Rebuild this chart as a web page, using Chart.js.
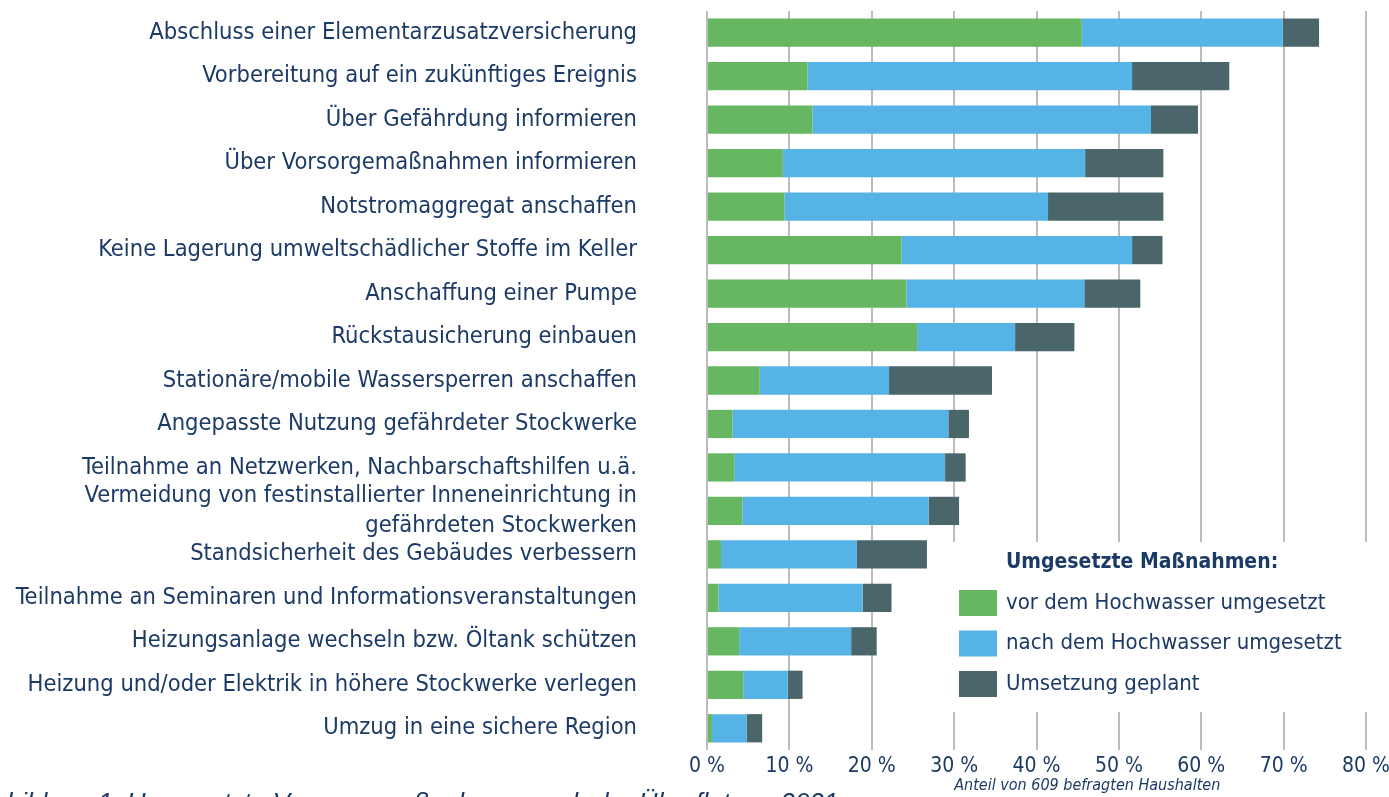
<!DOCTYPE html>
<html>
<head>
<meta charset="utf-8">
<script src="https://cdn.jsdelivr.net/npm/chart.js@4.4.1/dist/chart.umd.min.js"></script>
<style>
  html, body { margin: 0; padding: 0; background: #fff; overflow: hidden; }
  canvas { display: block; }
</style>
</head>
<body>
<canvas id="massnahmen" width="1389" height="797"></canvas>
<script>
// Werte in Prozent
const categories = [
  'Abschluss einer Elementarzusatzversicherung',
  'Vorbereitung auf ein zukünftiges Ereignis',
  'Über Gefährdung informieren',
  'Über Vorsorgemaßnahmen informieren',
  'Notstromaggregat anschaffen',
  'Keine Lagerung umweltschädlicher Stoffe im Keller',
  'Anschaffung einer Pumpe',
  'Rückstausicherung einbauen',
  'Stationäre/mobile Wassersperren anschaffen',
  'Angepasste Nutzung gefährdeter Stockwerke',
  'Teilnahme an Netzwerken, Nachbarschaftshilfen u.ä.',
  ['Vermeidung von festinstallierter Inneneinrichtung in', 'gefährdeten Stockwerken'],
  'Standsicherheit des Gebäudes verbessern',
  'Teilnahme an Seminaren und Informationsveranstaltungen',
  'Heizungsanlage wechseln bzw. Öltank schützen',
  'Heizung und/oder Elektrik in höhere Stockwerke verlegen',
  'Umzug in eine sichere Region'
];
const vorHochwasser  = [45.5, 12.2, 12.8, 9.2, 9.4, 23.6, 24.2, 25.5, 6.4, 3.1, 3.3, 4.3, 1.7, 1.4, 3.9, 4.4, 0.6];
const nachHochwasser = [24.4, 39.4, 41.1, 36.7, 32.0, 28.0, 21.6, 11.9, 15.7, 26.2, 25.6, 22.6, 16.5, 17.5, 13.6, 5.4, 4.2];
const geplant        = [4.4, 11.8, 5.7, 9.5, 14.0, 3.7, 6.8, 7.2, 12.5, 2.5, 2.5, 3.7, 8.5, 3.5, 3.1, 1.8, 1.9];
const seriesNames = ['vor dem Hochwasser umgesetzt', 'nach dem Hochwasser umgesetzt', 'Umsetzung geplant'];
const seriesColors = ['#67b662', '#56b3e5', '#4a666b'];
const legendTitle = 'Umgesetzte Maßnahmen:';
const axisTitle = 'Anteil von 609 befragten Haushalten';
const caption = 'Abbildung 1: Umgesetzte Vorsorgemaßnahmen nach der Überflutung 2021';

const navy = '#1b3a66';
const narrow = '"Liberation Sans Narrow", "DejaVu Sans Condensed", sans-serif';

// Legende und Beschriftungen, die Chart.js so nicht platziert
const extras = {
  id: 'extras',
  beforeDatasetsDraw(chart) {
    const ctx = chart.ctx;
    ctx.save();
    ctx.fillStyle = '#fff';
    ctx.fillRect(947, 542, 442, 170);
    ctx.restore();
  },
  afterDraw(chart) {
    const ctx = chart.ctx;
    const area = chart.chartArea;
    ctx.save();
    ctx.fillStyle = navy;
    ctx.textBaseline = 'middle';
    ctx.textAlign = 'left';
    ctx.font = 'bold 21px ' + narrow;
    ctx.fillText(legendTitle, 1006, 563);
    ctx.font = '22px ' + narrow;
    chart.data.datasets.forEach((ds, i) => {
      const y = 603 + i * 40.5;
      ctx.fillStyle = ds.backgroundColor;
      ctx.fillRect(959, y - 13, 38, 26);
      ctx.fillStyle = navy;
      ctx.fillText(ds.label, 1006, y);
    });

    ctx.font = 'italic 16px ' + narrow;
    ctx.textAlign = 'center';
    ctx.fillText(axisTitle, area.left + (area.right - area.left) * 0.577, 786);

    ctx.font = 'italic 26px "Liberation Sans", sans-serif';
    ctx.textAlign = 'left';
    ctx.textBaseline = 'top';
    ctx.fillText(caption, -25, 791);
    ctx.restore();
  }
};

new Chart(document.getElementById('massnahmen'), {
  type: 'bar',
  data: {
    labels: categories,
    datasets: [
      { label: seriesNames[0], data: vorHochwasser, backgroundColor: seriesColors[0] },
      { label: seriesNames[1], data: nachHochwasser, backgroundColor: seriesColors[1] },
      { label: seriesNames[2], data: geplant, backgroundColor: seriesColors[2] }
    ]
  },
  options: {
    indexAxis: 'y',
    responsive: false,
    animation: false,
    layout: { autoPadding: false, padding: { top: 11, right: 23, bottom: 0, left: 0 } },
    datasets: { bar: { barPercentage: 0.65, categoryPercentage: 1, borderWidth: 0 } },
    plugins: {
      legend: { display: false },
      tooltip: { enabled: false }
    },
    scales: {
      x: {
        stacked: true,
        min: 0,
        max: 80,
        afterFit(scale) {
          scale.height = 47;
          scale.paddingLeft = 0;
          scale.paddingRight = 0;
        },
        grid: { color: '#bcbcbc', lineWidth: 2, drawTicks: false },
        border: { display: false },
        ticks: {
          stepSize: 10,
          padding: 4,
          color: navy,
          maxRotation: 0,
          font: { family: narrow, size: 21 },
          callback: v => v + ' %'
        }
      },
      y: {
        stacked: true,
        afterFit(scale) {
          scale.width = 707;
          scale.paddingTop = 0;
          scale.paddingBottom = 0;
        },
        grid: { display: false, drawTicks: false },
        border: { display: false },
        ticks: {
          padding: 70,
          color: navy,
          autoSkip: false,
          font: { family: narrow, size: 23.5, lineHeight: 1.3 }
        }
      }
    }
  },
  plugins: [extras]
});
</script>
</body>
</html>
